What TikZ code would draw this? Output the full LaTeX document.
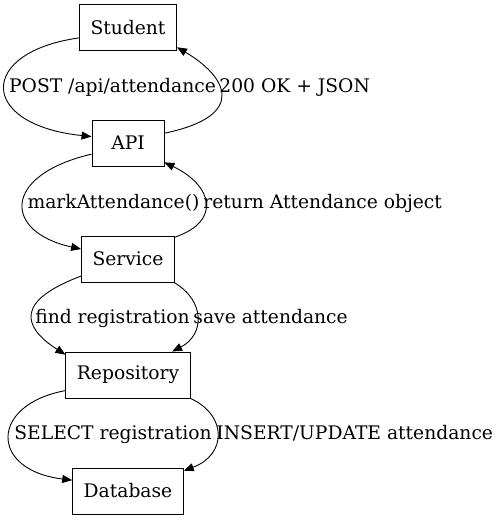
\documentclass[tikz,border=0pt]{standalone}
\usepackage{fontspec}
\setmainfont{DejaVu Serif}
\usetikzlibrary{arrows.meta}
\tikzset{every path/.style={black,line width=0.9pt},
  box/.style={draw, rectangle, minimum width=72pt, minimum height=46pt, inner xsep=11pt, font=\fontsize{18.7}{22}\selectfont},
  lbl/.style={inner sep=0pt, font=\fontsize{18.7}{22}\selectfont},
  call/.style={-{Triangle[length=10pt,width=8pt]}}}

\begin{document}
\begin{tikzpicture}[x=1pt,y=-1pt]
  \useasboundingbox (0,0) rectangle (499,523);
  \node[box] (student) at (128, 27.5) {Student};
  \node[box] (api)     at (128,143.0) {API};
  \node[box] (service) at (128,259.0) {Service};
  \node[box] (repo)    at (128,375.0) {Repository};
  \node[box] (db)      at (128,491.0) {Database};
  % student <-> api
  \draw[call] (student.192) .. controls +(-101,14) and +(-114,-12) .. (api.170);
  \draw[call] (api.15) .. controls +(86,-18) and +(48,28) .. (student.-22);
  \node[lbl,anchor=base]      (l1) at (112.5,92) {POST /api/attendance};
  \node[lbl,anchor=base west] (r1) at (219,92) {200 OK + JSON};
  % api <-> service
  \draw[call] (api.197) .. controls +(-90,21) and +(-78,-17) .. (service.168);
  \draw[call] (service.25) .. controls +(47,-16) and +(48,23) .. (api.-28);
  \node[lbl,anchor=base]      (l2) at (113.5,208) {markAttendance()};
  \node[lbl,anchor=base west] (r2) at (203,208) {return Attendance object};
  % service -> repo
  \draw[call] (service.200) .. controls +(-64,24) and +(-45,-29) .. (repo.162);
  \draw[call] (service.-27) .. controls +(31,18) and +(33,-17) .. (repo.28);
  \node[lbl,anchor=base]      (l3) at (112.5,323) {find registration};
  \node[lbl,anchor=base west] (r3) at (193,323) {save attendance};
  % repo -> db
  \draw[call] (repo.194) .. controls +(-76,14) and +(-83,-10) .. (db.169);
  \draw[call] (repo.south east) .. controls +(37,17) and +(43,-16) .. (db.20);
  \node[lbl,anchor=base]      (l4) at (113,439) {SELECT registration};
  \node[lbl,anchor=base west] (r4) at (216,439) {INSERT/UPDATE attendance};
\end{tikzpicture}
\end{document}
